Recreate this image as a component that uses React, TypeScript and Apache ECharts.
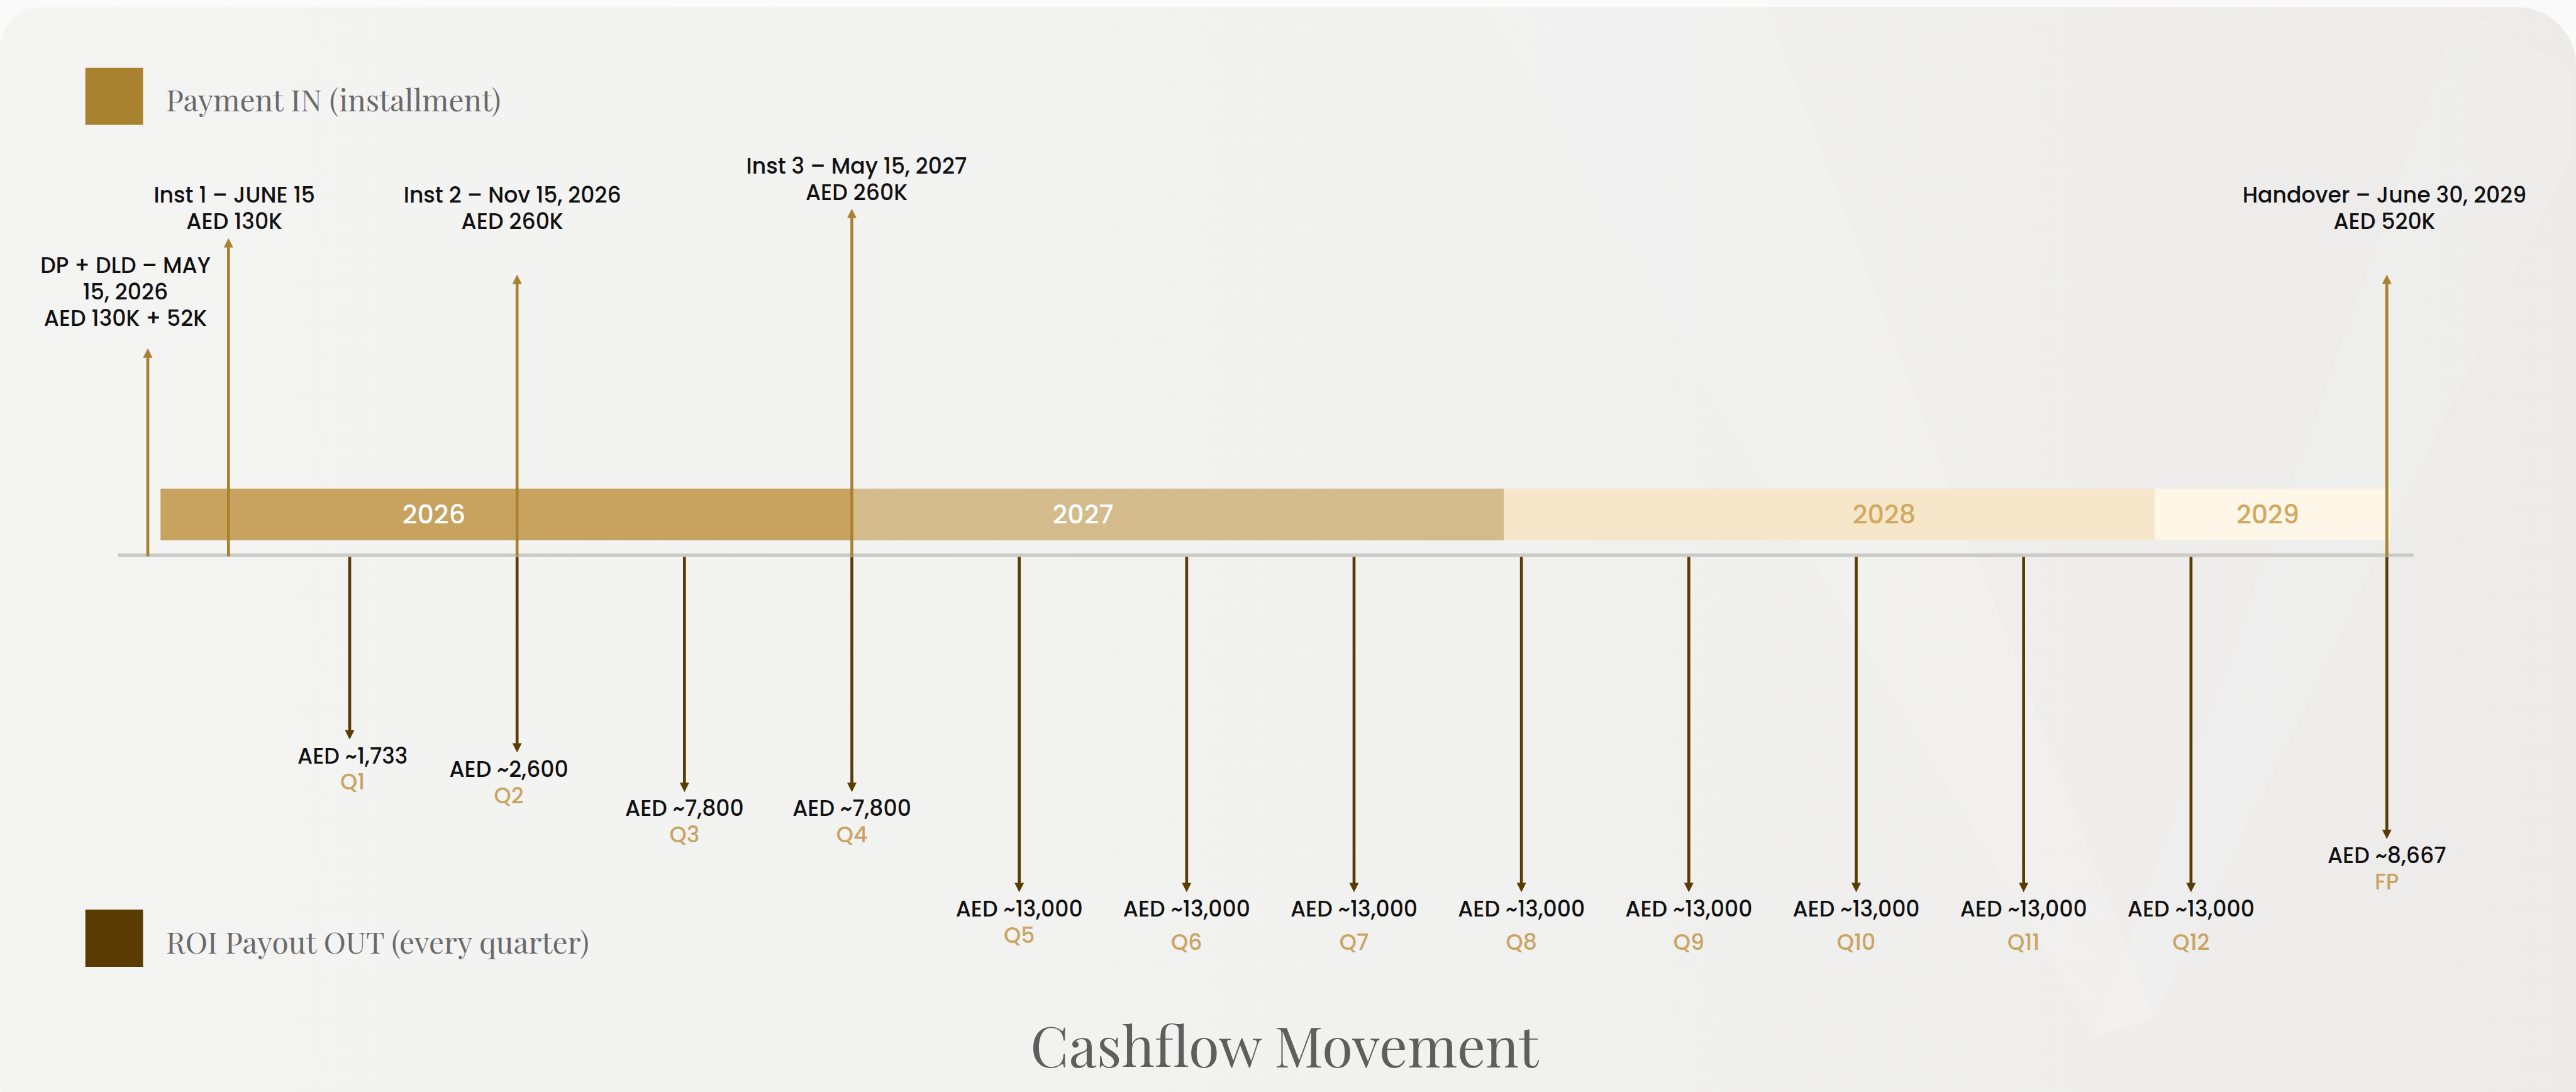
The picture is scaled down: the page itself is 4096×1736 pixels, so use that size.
import React, { useEffect, useRef } from "react";
import * as echarts from "echarts";

// ---------------- DATA ----------------
// Timeline positions are in "quarter" units (Q1 = 1 ... Q12 = 12)
const years = ["2026", "2027", "2028", "2029"];
const yearStart = [-0.13, 4.0, 7.895, 11.784];
const yearEnd = [4.0, 7.895, 11.784, 13.19];
const yearLabelAt = [1.503, 5.381, 10.167, 12.459];

const paymentTitles = [
  "DP + DLD – MAY\n15, 2026",
  "Inst 1 – JUNE 15",
  "Inst 2 – Nov 15, 2026",
  "Inst 3 – May 15, 2027",
  "Handover – June 30, 2029",
];
const paymentAmounts = ["AED 130K + 52K", "AED 130K", "AED 260K", "AED 260K", "AED 520K"];
const paymentAt = [-0.206, 0.276, 2.0, 4.0, 13.17];
// drawn arrow heights above the axis (schematic units, as in the picture)
const paymentHeight = [351, 538, 476, 588, 476];
// level of the first label line (schematic units)
const paymentLabelLevel = [492, 611, 611, 660, 611];

const payoutNames = ["Q1", "Q2", "Q3", "Q4", "Q5", "Q6", "Q7", "Q8", "Q9", "Q10", "Q11", "Q12", "FP"];
const payoutAmounts = [
  "AED ~1,733", "AED ~2,600", "AED ~7,800", "AED ~7,800",
  "AED ~13,000", "AED ~13,000", "AED ~13,000", "AED ~13,000",
  "AED ~13,000", "AED ~13,000", "AED ~13,000", "AED ~13,000", "AED ~8,667",
];
const payoutAt = [1, 2, 3, 4, 5, 6, 7, 8, 9, 10, 11, 12, 13.17];
// drawn arrow depths below the axis (schematic units, as in the picture)
const payoutDepth = [313, 335, 402, 402, 572, 572, 572, 572, 572, 572, 572, 572, 482];

const axisExtent = [-0.385, 13.33];

const legendItems = ["Payment IN (installment)", "ROI Payout OUT (every quarter)"];
const titleText = "Cashflow Movement";

// ---------------- LAYOUT / STYLE ----------------
const W = 4096;
const H = 1736;
const S = 0.936;
const FONT = "Poppins, Inter, 'Noto Sans', sans-serif";
const SERIF = "'Playfair Display', 'Liberation Serif', 'DejaVu Serif', serif";
const GOLD = "#a8822f";
const BROWN = "#5a3c03";
const bandColors = ["#c8a35f", "#d3bb8b", "#f6e7ca", "#fef6e7"];
const yearTextColors = ["#ffffff", "#ffffff", "#d1a960", "#d1a960"];
const paymentLabelDx = [-38, 10, -8, 8, -4];
const payoutLabelDx = [5, -14, 0, 0, 0, 0, 0, 0, 0, 0, 0, 0, 0];
const payoutNameGap = [44, 45, 45, 45, 45, 57, 57, 57, 57, 57, 57, 57, 45];

export default function App() {
  const ref = useRef<HTMLDivElement>(null);

  useEffect(() => {
    const chart = echarts.init(ref.current as HTMLDivElement, null, { renderer: "svg" });
    const p = (v: number) => v * S;
    const labelFont = p(37);
    const lineGap = p(45);
    const lw = p(5);
    const headH = p(16);
    const headW = p(8);

    const option: any = {
      animation: false,
      backgroundColor: "#fafafa",
      grid: { left: 0, right: 0, top: 0, bottom: 0 },
      xAxis: { type: "value", min: -1.089, max: 14.3, show: false },
      yAxis: { type: "value", min: -911, max: 942, show: false },
      graphic: {
        elements: [
          {
            type: "rect",
            z: -10,
            silent: true,
            shape: { x: 0, y: p(12), width: W, height: H + 40, r: [p(70), p(100), 0, p(70)] },
            style: {
              fill: {
                type: "linear", x: 0, y: 0, x2: 1, y2: 0,
                colorStops: [
                  { offset: 0, color: "#f4f4f3" },
                  { offset: 0.55, color: "#f1f1f0" },
                  { offset: 1, color: "#ecebea" },
                ],
              },
            },
          },
          {
            type: "polygon",
            z: -9,
            silent: true,
            shape: { points: [[p(2520), p(12)], [p(3000), p(12)], [p(3660), p(1730)], [p(3560), p(1760)]] },
            style: { fill: "rgba(255,255,255,0.12)" },
          },
          {
            type: "polygon",
            z: -9,
            silent: true,
            shape: { points: [[p(4180), p(12)], [p(4372), p(120)], [p(4372), p(260)], [p(3660), p(1730)], [p(3560), p(1760)]] },
            style: { fill: "rgba(255,255,255,0.1)" },
          },
          {
            type: "rect",
            shape: { x: p(145), y: p(115), width: p(98), height: p(97) },
            style: { fill: GOLD },
          },
          {
            type: "text",
            x: p(282),
            y: p(168),
            style: { text: legendItems[0], fill: "#6a6a6a", font: `${p(51)}px ${SERIF}`, verticalAlign: "middle" },
          },
          {
            type: "rect",
            shape: { x: p(145), y: p(1545), width: p(98), height: p(97) },
            style: { fill: BROWN },
          },
          {
            type: "text",
            x: p(282),
            y: p(1598),
            style: { text: legendItems[1], fill: "#6a6a6a", font: `${p(51)}px ${SERIF}`, verticalAlign: "middle" },
          },
          {
            type: "text",
            x: p(2182),
            y: p(1773),
            style: { text: titleText, fill: "#5e5e5e", font: `${p(95)}px ${SERIF}`, align: "center", verticalAlign: "middle" },
          },
        ],
      },
      series: [
        {
          type: "custom",
          name: "years",
          z: 1,
          silent: true,
          data: years.map((y, i) => [yearStart[i], yearEnd[i], yearLabelAt[i], i]),
          renderItem: (params: any, api: any) => {
            const i = params.dataIndex;
            const a = api.coord([api.value(0), 113]);
            const b = api.coord([api.value(1), 25]);
            const t = api.coord([api.value(2), 69]);
            return {
              type: "group",
              children: [
                {
                  type: "rect",
                  shape: { x: a[0], y: a[1], width: b[0] - a[0], height: b[1] - a[1] },
                  style: { fill: bandColors[i] },
                },
                {
                  type: "text",
                  x: t[0],
                  y: t[1],
                  style: {
                    text: years[i],
                    fill: yearTextColors[i],
                    font: `500 ${p(44)}px ${FONT}`,
                    align: "center",
                    verticalAlign: "middle",
                  },
                },
              ],
            };
          },
        },
        {
          type: "line",
          name: "axis",
          z: 2,
          silent: true,
          showSymbol: false,
          data: [[axisExtent[0], 0], [axisExtent[1], 0]],
          lineStyle: { color: "#cbcbc5", width: p(6) },
        },
        {
          type: "custom",
          name: "ROI Payout OUT",
          z: 3,
          silent: true,
          data: payoutAt.map((x, i) => [x, -payoutDepth[i], i]),
          renderItem: (params: any, api: any) => {
            const i = params.dataIndex;
            const base = api.coord([api.value(0), 0]);
            const tip = api.coord([api.value(0), api.value(1)]);
            const textY = tip[1] + p(28);
            const cx = tip[0] + p(payoutLabelDx[i]);
            return {
              type: "group",
              children: [
                {
                  type: "line",
                  shape: { x1: base[0], y1: base[1] + p(3), x2: tip[0], y2: tip[1] - headH + 1 },
                  style: { stroke: BROWN, lineWidth: lw },
                },
                {
                  type: "polygon",
                  shape: { points: [[tip[0], tip[1]], [tip[0] - headW, tip[1] - headH], [tip[0] + headW, tip[1] - headH]] },
                  style: { fill: BROWN },
                },
                {
                  type: "text",
                  x: cx,
                  y: textY,
                  style: { text: payoutAmounts[i], fill: "#111111", font: `500 ${labelFont}px ${FONT}`, align: "center", verticalAlign: "middle" },
                },
                {
                  type: "text",
                  x: cx,
                  y: textY + p(payoutNameGap[i]),
                  style: { text: payoutNames[i], fill: "#c9a463", font: `500 ${labelFont}px ${FONT}`, align: "center", verticalAlign: "middle" },
                },
              ],
            };
          },
        },
        {
          type: "custom",
          name: "Payment IN",
          z: 4,
          silent: true,
          data: paymentAt.map((x, i) => [x, paymentHeight[i], i]),
          renderItem: (params: any, api: any) => {
            const i = params.dataIndex;
            const base = api.coord([api.value(0), 0]);
            const tip = api.coord([api.value(0), api.value(1)]);
            const y0 = api.coord([api.value(0), paymentLabelLevel[i]])[1];
            const label = paymentTitles[i] + "\n" + paymentAmounts[i];
            const cx = tip[0] + p(paymentLabelDx[i]);
            return {
              type: "group",
              children: [
                {
                  type: "line",
                  shape: { x1: base[0], y1: base[1] + p(2), x2: tip[0], y2: tip[1] + headH - 1 },
                  style: { stroke: GOLD, lineWidth: lw },
                },
                {
                  type: "polygon",
                  shape: { points: [[tip[0], tip[1]], [tip[0] - headW, tip[1] + headH], [tip[0] + headW, tip[1] + headH]] },
                  style: { fill: GOLD },
                },
                {
                  type: "text",
                  x: cx,
                  y: y0 - lineGap / 2,
                  style: {
                    text: label,
                    fill: "#111111",
                    font: `500 ${labelFont}px ${FONT}`,
                    lineHeight: lineGap,
                    align: "center",
                    verticalAlign: "top",
                  },
                },
              ],
            };
          },
        },
      ],
    };

    chart.setOption(option);
    return () => chart.dispose();
  }, []);

  return (
    <div
      ref={ref}
      style={{ position: "fixed", left: 0, top: 0, width: W, height: H, margin: 0 }}
    />
  );
}
